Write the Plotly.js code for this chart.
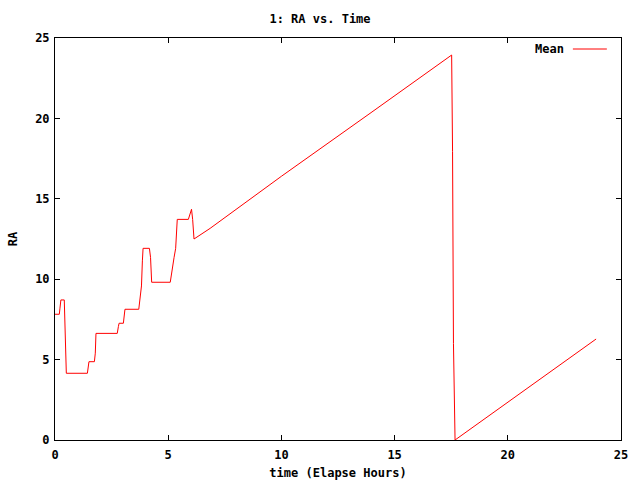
<!DOCTYPE html>
<html>
<head>
<meta charset="utf-8">
<script src="https://cdn.plot.ly/plotly-3.0.1.min.js"></script>
<style>html,body{margin:0;padding:0;background:#fff;}#chart{width:640px;height:480px;}</style>
</head>
<body>
<div id="chart"></div>
<script>
// Elapsed time (hours) and mean RA values
const timeHours = [0, 0.19, 0.22, 0.26, 0.41, 0.43, 0.46, 0.50, 1.43, 1.47, 1.50, 1.74, 1.78, 1.81,
  2.75, 2.80, 2.83, 3.02, 3.09, 3.70, 3.76, 3.82, 3.86, 3.89, 4.17, 4.22, 4.27, 5.09, 5.14, 5.20,
  5.26, 5.33, 5.37, 5.40, 5.89, 5.96, 6.03, 6.08, 6.11, 6.14, 6.85, 10, 14, 17.52, 17.56, 17.60,
  17.67, 20, 23.9];
const raMean = [7.82, 7.82, 8.2, 8.71, 8.71, 7.5, 5.22, 4.15, 4.15, 4.6, 4.87, 4.87, 5.4, 6.63,
  6.63, 7.05, 7.26, 7.26, 8.13, 8.13, 8.8, 9.58, 11.14, 11.92, 11.92, 11.36, 9.81, 9.81, 10.26, 10.94,
  11.36, 11.92, 13.1, 13.72, 13.72, 14.03, 14.35, 13.72, 12.85, 12.5, 13.16, 16.4, 20.4, 23.94, 17.93, 6.01,
  0, 2.35, 6.28];
const seriesName = "Mean";
const xTicks = [0, 5, 10, 15, 20, 25];
const yTicks = [0, 5, 10, 15, 20, 25];

const font = {family: "DejaVu Sans Mono, monospace", size: 12, color: "#000", weight: "bold"};

const trace = {
  x: timeHours, y: raMean, type: "scatter", mode: "lines", name: seriesName,
  line: {color: "#ff0000", width: 1}, showlegend: false
};

const axisCommon = {
  showgrid: false, zeroline: false, showline: true, linecolor: "#000", linewidth: 1,
  mirror: "ticks", ticks: "inside", ticklen: 5, tickcolor: "#000", tickwidth: 1,
  tickfont: font, range: [0, 25], tickmode: "array"
};

const layout = {
  width: 640, height: 480,
  margin: {l: 55, r: 19, t: 38, b: 40},
  paper_bgcolor: "#fff", plot_bgcolor: "#fff",
  title: {text: "1: RA vs. Time", font: font, x: 0.5, xanchor: "center", y: 1 - 19/480, yanchor: "middle", yref: "container"},
  xaxis: Object.assign({}, axisCommon, {tickvals: xTicks, ticktext: xTicks.map(String), ticklabelstandoff: 4,
    title: {text: "time (Elapse Hours)", font: font, standoff: 7}}),
  yaxis: Object.assign({}, axisCommon, {tickvals: yTicks, ticktext: yTicks.map(String), ticklabelstandoff: 2,
    title: {text: "RA", font: font, standoff: 14}}),
  annotations: [{text: seriesName, xref: "paper", yref: "paper", x: 0.902, y: 0.9726,
    xanchor: "right", yanchor: "middle", showarrow: false, font: font}],
  shapes: [{type: "line", xref: "paper", yref: "paper", x0: 0.915, x1: 0.975, y0: 0.9726, y1: 0.9726,
    line: {color: "#ff0000", width: 1}}]
};

Plotly.newPlot("chart", [trace], layout, {displayModeBar: false, staticPlot: true});
</script>
</body>
</html>
